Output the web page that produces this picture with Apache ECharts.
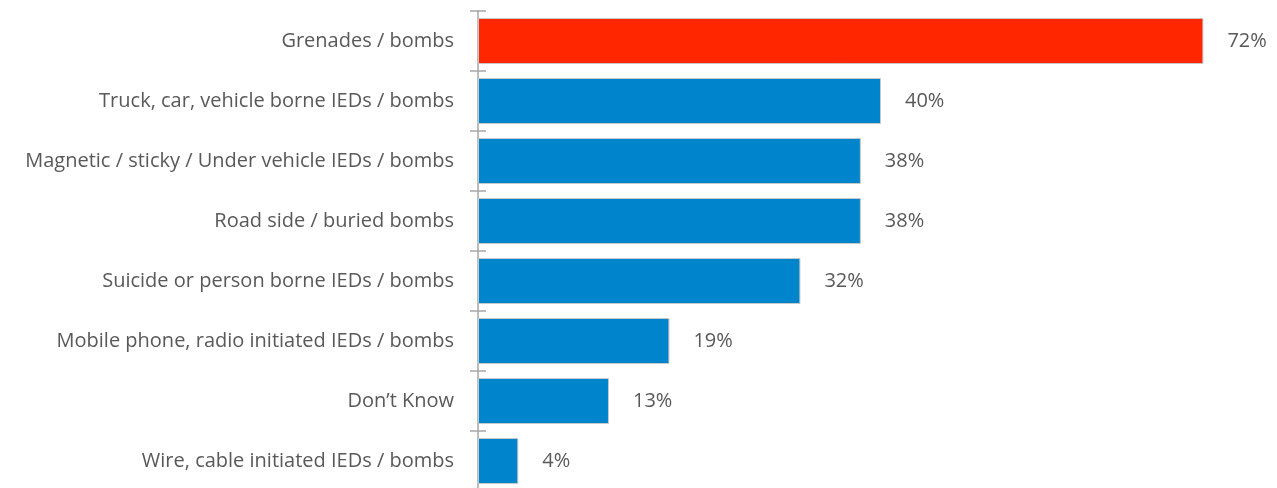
<!DOCTYPE html>
<html>
<head>
<meta charset="utf-8">
<script src="https://cdn.jsdelivr.net/npm/echarts@6/dist/echarts.min.js"></script>
<style>
html,body{margin:0;padding:0;background:#fff;}
#chart{width:1277px;height:488px;}
</style>
</head>
<body>
<div id="chart"></div>
<script>
// Device types, top to bottom
const categories = [
  'Grenades / bombs',
  'Truck, car, vehicle borne IEDs / bombs',
  'Magnetic / sticky / Under vehicle IEDs / bombs',
  'Road side / buried bombs',
  'Suicide or person borne IEDs / bombs',
  'Mobile phone, radio initiated IEDs / bombs',
  'Don\u2019t Know',
  'Wire, cable initiated IEDs / bombs'
];
// Share of respondents, percent
const values = [72, 40, 38, 38, 32, 19, 13, 4];
// The leading item is highlighted
const highlightIndex = 0;

const BLUE = '#0084cb';
const RED = '#ff2600';
const TEXT = '#595959';
const AXIS = '#a6a6a6';
const FONT = '"Open Sans", Lato, sans-serif';
const FONT_SIZE = 20;

const chart = echarts.init(document.getElementById('chart'));
chart.setOption({
  animation: false,
  grid: {
    left: 478, top: 11, width: 806, height: 480,
    containLabel: false, outerBoundsMode: 'none'
  },
  xAxis: {
    type: 'value', min: 0, max: 80, show: false
  },
  yAxis: [
    {
      type: 'category', data: categories, inverse: true,
      axisLine: { show: true, lineStyle: { color: AXIS, width: 1.5 } },
      axisTick: { show: true, length: 8, lineStyle: { color: AXIS, width: 1.5 } },
      axisLabel: {
        color: TEXT, fontFamily: FONT, fontSize: FONT_SIZE, margin: 24,
        padding: [6, 0, 0, 0]
      },
      splitLine: { show: false }
    },
    {
      type: 'category', data: categories, inverse: true, position: 'left',
      axisLine: { show: false },
      axisTick: { show: true, inside: true, length: 8, lineStyle: { color: AXIS, width: 1.5 } },
      axisLabel: { show: false },
      splitLine: { show: false }
    }
  ],
  series: [{
    type: 'bar',
    yAxisIndex: 0,
    barWidth: 46,
    data: values.map((v, i) => ({
      value: v,
      itemStyle: { color: i === highlightIndex ? RED : BLUE }
    })),
    itemStyle: { borderColor: '#c8c8c8', borderWidth: 1 },
    label: {
      show: true, position: 'right', distance: 24,
      color: TEXT, fontFamily: FONT, fontSize: FONT_SIZE,
      padding: [6, 0, 0, 0],
      formatter: p => p.value + '%'
    }
  }]
});
</script>
</body>
</html>
